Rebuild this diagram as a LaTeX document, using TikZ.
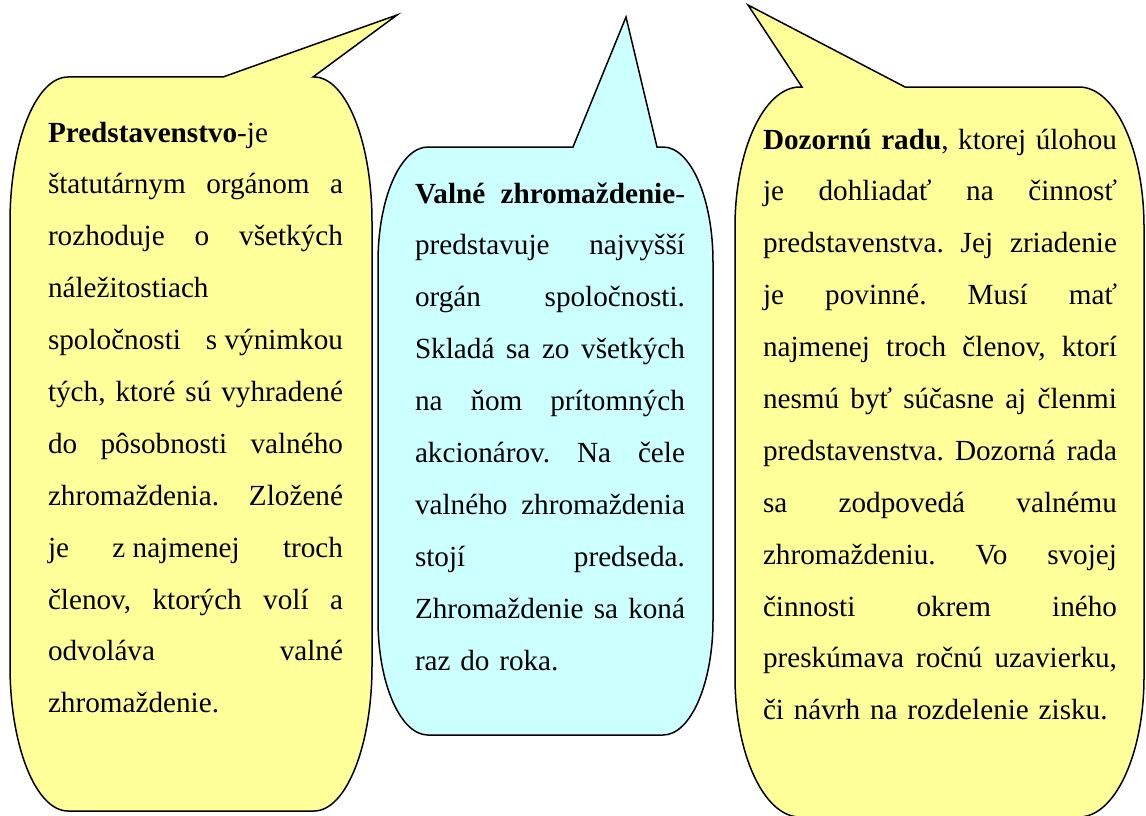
\documentclass[tikz,border=0pt]{standalone}
\usepackage{fontspec}
\setmainfont{Liberation Serif}
\definecolor{bubbleyellow}{RGB}{255,255,153}
\definecolor{bubblecyan}{RGB}{204,255,255}
% one justified line spanning the column width \colw: word spaces stretch evenly
\newcommand\colw{100pt}
\newcommand\jline[1]{\makebox[\colw][s]{\spaceskip=0.25em plus 1fil\relax #1}}
\begin{document}
\begin{tikzpicture}[x=1pt,y=1pt,
  bubble/.style={draw=black, line width=1.5pt, line join=miter},
  bodytext/.style={inner sep=0pt, outer sep=0pt, anchor=base west, align=left,
    font=\fontsize{29.2}{51.9}\selectfont\frenchspacing}]
\useasboundingbox (0,0) rectangle (1146,-816);

% Predstavenstvo callout
\path[bubble, fill=bubbleyellow]
  (68,-77) -- (223,-77) -- (397,-15) -- (313,-77) -- (314,-77)
  arc[start angle=90, end angle=0, x radius=58pt, y radius=145pt]
  -- (372,-666)
  arc[start angle=0, end angle=-90, x radius=58pt, y radius=145pt]
  -- (68,-811)
  arc[start angle=-90, end angle=-180, x radius=58pt, y radius=145pt]
  -- (10,-222)
  arc[start angle=180, end angle=90, x radius=58pt, y radius=145pt]
  -- cycle;

% Valne zhromazdenie callout
\path[bubble, fill=bubblecyan]
  (428,-147) -- (573,-147) -- (626,-17) -- (657,-147) -- (663,-147)
  arc[start angle=90, end angle=0, x radius=50pt, y radius=115pt]
  -- (713,-620)
  arc[start angle=0, end angle=-90, x radius=50pt, y radius=115pt]
  -- (428,-735)
  arc[start angle=-90, end angle=-180, x radius=50pt, y radius=115pt]
  -- (378,-262)
  arc[start angle=180, end angle=90, x radius=50pt, y radius=115pt]
  -- cycle;

% Dozorna rada callout
\path[bubble, fill=bubbleyellow]
  (802,-87) -- (748,-5) -- (905,-87) -- (1079,-87)
  arc[start angle=90, end angle=0, x radius=65pt, y radius=140pt]
  -- (1144,-677)
  arc[start angle=0, end angle=-90, x radius=65pt, y radius=140pt]
  -- (800,-817)
  arc[start angle=-90, end angle=-180, x radius=65pt, y radius=140pt]
  -- (735,-227)
  arc[start angle=180, end angle=90, x radius=65pt, y radius=140pt]
  -- cycle;

\node[bodytext, text width=295pt] (pred) at (48,-142) {%
  \renewcommand\colw{295pt}%
  \textbf{Predstavenstvo}-je\\
  \jline{štatutárnym orgánom a}\\
  \jline{rozhoduje o všetkých}\\
  náležitostiach\\
  \jline{spoločnosti s\hspace{0.25em}výnimkou}\\
  \jline{tých, ktoré sú vyhradené}\\
  \jline{do pôsobnosti valného}\\
  \jline{zhromaždenia. Zložené}\\
  \jline{je z\hspace{0.25em}najmenej troch}\\
  \jline{členov, ktorých volí a}\\
  \jline{odvoláva valné}\\
  zhromaždenie.};

\node[bodytext, text width=270pt] (valne) at (415,-203) {%
  \renewcommand\colw{270pt}%
  \jline{\textbf{Valné zhromaždenie}-}\\
  \jline{predstavuje najvyšší}\\
  \jline{orgán spoločnosti.}\\
  \jline{Skladá sa zo všetkých}\\
  \jline{na ňom prítomných}\\
  \jline{akcionárov. Na čele}\\
  \jline{valného zhromaždenia}\\
  \jline{stojí predseda.}\\
  \jline{Zhromaždenie sa koná}\\
  raz do roka.};

\node[bodytext, text width=354pt] (dozor) at (763,-149) {%
  \renewcommand\colw{354pt}%
  \jline{\textbf{Dozornú radu}, ktorej úlohou}\\
  \jline{je dohliadať na činnosť}\\
  \jline{predstavenstva. Jej zriadenie}\\
  \jline{je povinné. Musí mať}\\
  \jline{najmenej troch členov, ktorí}\\
  \jline{nesmú byť súčasne aj členmi}\\
  \jline{predstavenstva. Dozorná rada}\\
  \jline{sa zodpovedá valnému}\\
  \jline{zhromaždeniu. Vo svojej}\\
  \jline{činnosti okrem iného}\\
  \jline{preskúmava ročnú uzavierku,}\\
  či návrh na rozdelenie zisku.};
\end{tikzpicture}
\end{document}
